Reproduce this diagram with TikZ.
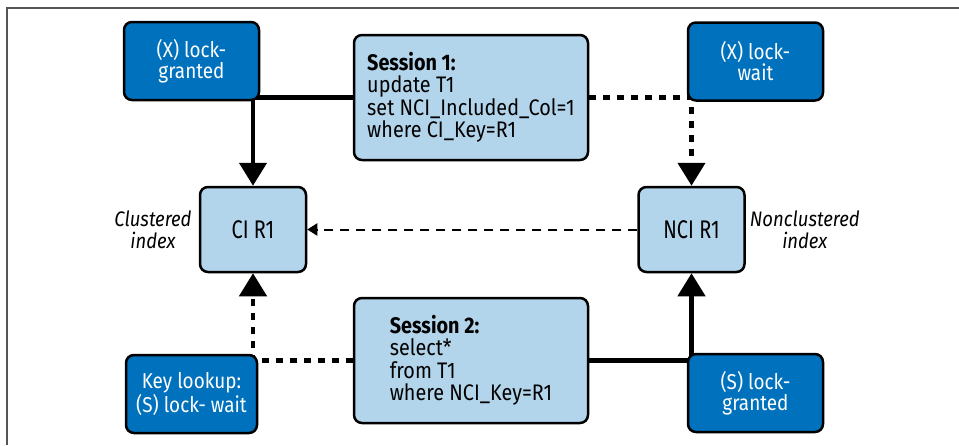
\documentclass[tikz,border=0pt]{standalone}
\usepackage{fontspec}
\setmainfont{Fira Sans}[FakeStretch=0.88]
\newfontfamily\rowfont{Fira Sans}[FakeStretch=0.78]
\usetikzlibrary{arrows.meta,positioning,backgrounds}
\definecolor{LockBlue}{HTML}{0071BC}
\definecolor{RowBlue}{HTML}{B3D5EB}
\definecolor{FrameGray}{HTML}{555555}
\tikzset{
  lockbox/.style={draw=black, line width=2.5pt, rounded corners=8pt, fill=LockBlue,
    text=white, align=center, minimum width=135pt, minimum height=78pt,
    font=\fontsize{21.5}{21}\selectfont},
  sessionbox/.style={draw=black, line width=2.5pt, rounded corners=8pt, fill=RowBlue,
    align=left, minimum width=234pt, minimum height=125pt,
    font=\fontsize{22.5}{22.5}\selectfont},
  indexbox/.style={draw=black, line width=2.5pt, rounded corners=8pt, fill=RowBlue,
    align=center, minimum width=106pt, minimum height=85pt,
    font=\rowfont\fontsize{25.5}{26}\selectfont},
  idxlabel/.style={inner sep=0pt, align=center, font=\fontsize{21}{22}\selectfont\itshape},
  wire/.style={-{Triangle[length=23pt, width=27pt]}, line width=4.5pt},
  grantwire/.style={wire},
  waitwire/.style={wire, dash pattern=on 7pt off 7pt},
  lookupwire/.style={-{Triangle[length=10pt, width=12pt]}, line width=2pt,
    dash pattern=on 9pt off 7pt},
  framerule/.style={draw=FrameGray, line width=2pt}
}

\begin{document}
\begin{tikzpicture}[x=1pt, y=1pt]
  \useasboundingbox (0,0) rectangle (959,-445);
  \draw[framerule] (959,-7.5) -- (6.5,-7.5) -- (6.5,-445);
  % index rows and the two sessions
  \node[indexbox] (ci) at (253,-229.5) {CI R1};
  \node[indexbox] (nci) at (691.5,-229.5) {NCI R1};
  \node[sessionbox] (s1) at (471,-97.5) {\textbf{Session 1:}\\update T1\\set NCI\_Included\_Col=1\\where CI\_Key=R1};
  \node[sessionbox] (s2) at (471,-360.5) {\textbf{Session 2:}\\select*\\from T1\\where NCI\_Key=R1};
  \node[idxlabel, left=7pt of ci] (cilabel) {Clustered\\index};
  \node[idxlabel, right=4pt of nci] (ncilabel) {Nonclustered\\index};
  \begin{scope}[on background layer]
    \draw[grantwire] (s1.west) -| (ci.north);
    \draw[waitwire] (s1.east) -| (nci.north);
    \draw[lookupwire] (nci.west) -- (ci.east);
    \draw[waitwire] (s2.west) -| (ci.south);
    \draw[grantwire] (s2.east) -| (nci.south);
  \end{scope}
  % lock states
  \node[lockbox] (xgrant) at (191.5,-61) {(X) lock-\\granted};
  \node[lockbox] (xwait) at (755.5,-61.5) {(X) lock-\\wait};
  \node[lockbox, minimum width=131pt] (swait) at (191.5,-394) {Key lookup:\\(S) lock- wait};
  \node[lockbox] (sgrant) at (755.5,-393) {(S) lock-\\granted};
\end{tikzpicture}
\end{document}
